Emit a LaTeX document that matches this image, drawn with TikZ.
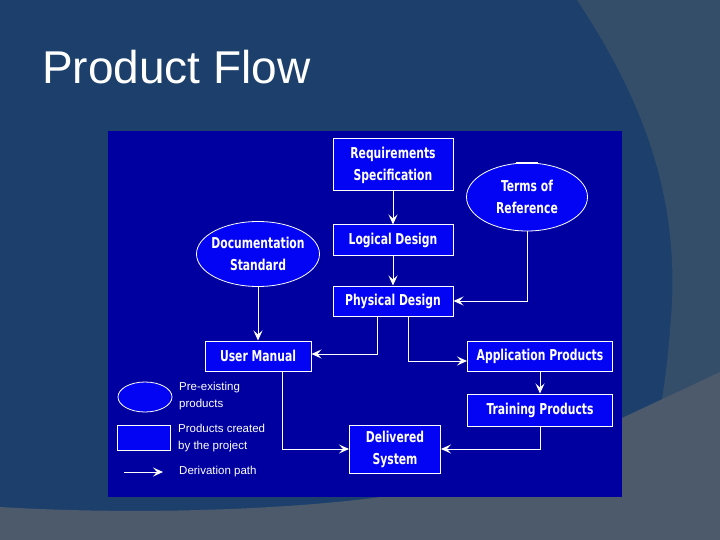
\documentclass[tikz,border=0pt]{standalone}
\usepackage{fontspec}
\setmainfont{Liberation Sans}
\newfontfamily\boxfont[FakeStretch=0.8]{DejaVu Sans Condensed}
\usetikzlibrary{shapes.geometric,arrows.meta}
\definecolor{slidebg}{HTML}{1C406B}
\definecolor{arcbg}{HTML}{344E6A}
\definecolor{graybg}{HTML}{4C5A6C}
\definecolor{panel}{HTML}{0000A0}
\definecolor{nodeblue}{HTML}{0404F4}
\tikzset{
  boxtext/.style={text=white, inner sep=0pt,
    font=\boxfont\bfseries\fontsize{15}{22}\selectfont, align=center},
  prod/.style={boxtext, draw=white, line width=1pt, fill=nodeblue},
  pre/.style={ellipse, draw=white, line width=0.8pt, fill=nodeblue, inner sep=0pt},
  flow/.style={draw=white, line width=1pt, -{Stealth[length=10pt,width=9pt,inset=4pt]}},
  legtext/.style={anchor=west, text=white, inner sep=0pt, font=\fontsize{11.5}{17}\selectfont, align=left},
}
\begin{document}
\begin{tikzpicture}[x=1pt,y=-1pt]
\useasboundingbox (0,0) rectangle (720,540);
% slide background
\fill[slidebg] (0,0) rectangle (720,540);
\fill[arcbg] (577,0) .. controls (650,110) and (682,210) .. (670,330)
  .. controls (667,370) and (663,395) .. (655,440) -- (720,440) -- (720,0) -- cycle;
\fill[graybg] (0,507) .. controls (150,516) and (300,508) .. (380,497) -- (622,418) -- (720,372)
  -- (720,540) -- (0,540) -- cycle;
% title
\node[anchor=base west, inner sep=0pt, text=white, font=\fontsize{46}{46}\selectfont] (title) at (42,84) {Product Flow};
% panel
\fill[panel] (108,131) rectangle (622,497);
% products
\node[prod, minimum width=120pt, minimum height=52pt] (req) at (393,165) {Requirements\\Specification};
\node[prod, minimum width=120pt, minimum height=30pt] (log) at (393,240) {Logical Design};
\node[prod, minimum width=120pt, minimum height=30pt] (phys) at (393,301) {Physical Design};
\node[pre, minimum width=121pt, minimum height=68pt] (tor) at (527,197) {};
\node[boxtext] (tortext) at (tor) {Terms of\\Reference};
\draw[white, line width=1.5pt] (516,163) -- (538,163);
\node[pre, minimum width=123pt, minimum height=65pt] (doc) at (258,254) {};
\node[boxtext] (doctext) at (doc) {Documentation\\Standard};
\node[prod, minimum width=106pt, minimum height=30pt] (um) at (258,356) {User Manual};
\node[prod, minimum width=145pt, minimum height=30pt] (app) at (540,356) {Application Products};
\node[prod, minimum width=145pt, minimum height=32pt] (train) at (540,410) {Training Products};
\node[prod, minimum width=91pt, minimum height=48pt] (del) at (395,449) {Delivered\\System};
% connectors
\draw[flow] (req) -- (log);
\draw[flow] (log) -- (phys);
\draw[flow] (tor.south) |- (phys.east);
\draw[flow] (doc.south) -- (um.north);
\draw[flow] ([xshift=-16pt]phys.south) |- ([yshift=2pt]um.east);
\draw[flow] ([xshift=15pt]phys.south) |- ([yshift=-5pt]app.west);
\draw[flow] (app) -- (train);
\draw[flow] (train.south) |- (del.east);
\draw[flow] ([xshift=24pt]um.south) |- (del.west);
% legend
\node[pre, minimum width=54pt, minimum height=30pt] (lege) at (145,397) {};
\node[legtext] (lt1) at (179,396) {Pre-existing\\products};
\node[prod, minimum width=53pt, minimum height=25pt] (legr) at (143.5,437.5) {};
\node[legtext] (lt2) at (178,438) {Products created\\by the project};
\coordinate (la) at (124,472);
\coordinate (lb) at (163,472);
\draw[flow] (la) -- (lb);
\node[legtext] (lt3) at (179,472) {Derivation path};
\end{tikzpicture}
\end{document}
